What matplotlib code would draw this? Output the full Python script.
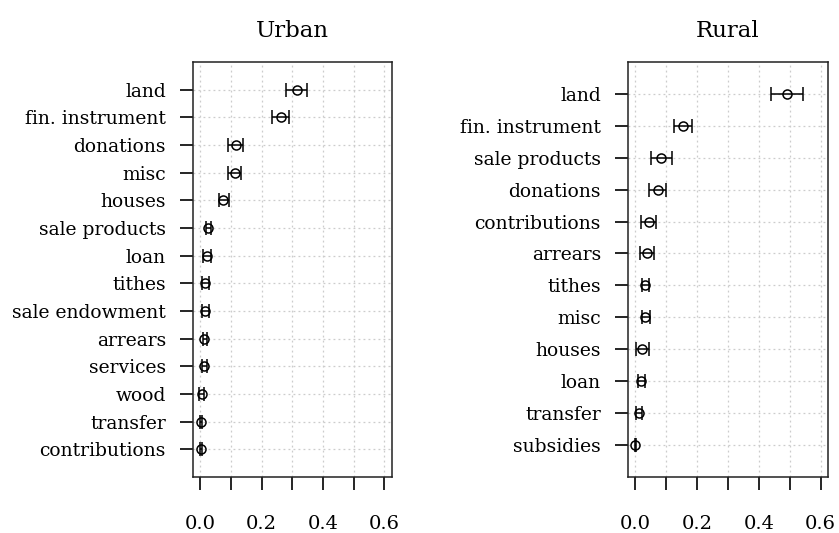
import matplotlib.pyplot as plt
import numpy as np

plt.rcParams['font.family'] = ['DejaVu Serif']

# Urban estimates (top to bottom)
urban_labels = ["land", "fin. instrument", "donations", "misc", "houses",
                "sale products", "loan", "tithes", "sale endowment", "arrears",
                "services", "wood", "transfer", "contributions"]
urban_est = [0.315, 0.264, 0.116, 0.113, 0.073, 0.026, 0.021, 0.015, 0.015,
             0.013, 0.012, 0.006, 0.002, 0.002]
urban_lo = [0.280, 0.235, 0.089, 0.089, 0.061, 0.019, 0.010, 0.006, 0.006,
            0.008, 0.006, -0.003, 0.000, 0.000]
urban_hi = [0.349, 0.289, 0.140, 0.131, 0.093, 0.036, 0.035, 0.028, 0.028,
            0.021, 0.021, 0.013, 0.005, 0.004]

# Rural estimates (top to bottom)
rural_labels = ["land", "fin. instrument", "sale products", "donations",
                "contributions", "arrears", "tithes", "misc", "houses", "loan",
                "transfer", "subsidies"]
rural_est = [0.490, 0.153, 0.084, 0.073, 0.043, 0.039, 0.030, 0.032, 0.023,
             0.017, 0.012, 0.000]
rural_lo = [0.439, 0.125, 0.052, 0.043, 0.019, 0.016, 0.021, 0.021, 0.003,
            0.008, 0.003, -0.002]
rural_hi = [0.542, 0.183, 0.118, 0.100, 0.066, 0.060, 0.044, 0.046, 0.043,
            0.032, 0.021, 0.002]

xticks = [0.0, 0.1, 0.2, 0.3, 0.4, 0.5, 0.6]
xticklabels = ["0.0", "", "0.2", "", "0.4", "", "0.6"]

fig = plt.figure(figsize=(8.39, 5.33), dpi=100)


def panel(rect, title, labels, est, lo, hi):
    ax = fig.add_axes(rect)
    n = len(labels)
    y = np.arange(n, 0, -1)
    est = np.array(est)
    err = np.vstack([est - np.array(lo), np.array(hi) - est])
    for gx in xticks:
        ax.axvline(gx, color='#cccccc', lw=0.9, ls=(0, (1.5, 2.5)), zorder=0)
    for gy in y:
        ax.axhline(gy, color='#cccccc', lw=0.9, ls=(0, (1.5, 2.5)), zorder=0)
    ax.errorbar(est, y, xerr=err, fmt='o', mfc='none', mec='black', ms=6.5,
                mew=1.1, ecolor='black', elinewidth=1.1, capsize=4.8,
                capthick=1.1)
    ax.set_xlim(-0.024, 0.624)
    ax.set_ylim(0, n + 1)
    ax.set_yticks(y)
    ax.set_yticklabels(labels, fontsize=13.5)
    ax.set_xticks(xticks)
    ax.set_xticklabels(xticklabels, fontsize=14)
    ax.tick_params(axis='y', length=9.5, width=1.2, pad=10)
    ax.tick_params(axis='x', length=9, width=1.2, pad=18)
    for s in ax.spines.values():
        s.set_linewidth(1.1)
        s.set_color('#222222')
    ax.set_title(title, fontsize=16.5, pad=18)
    return ax


panel([0.230, 0.105, 0.237, 0.779], "Urban", urban_labels, urban_est,
      urban_lo, urban_hi)
panel([0.7485, 0.105, 0.2384, 0.779], "Rural", rural_labels, rural_est,
      rural_lo, rural_hi)

fig.savefig("out.png", dpi=100)
